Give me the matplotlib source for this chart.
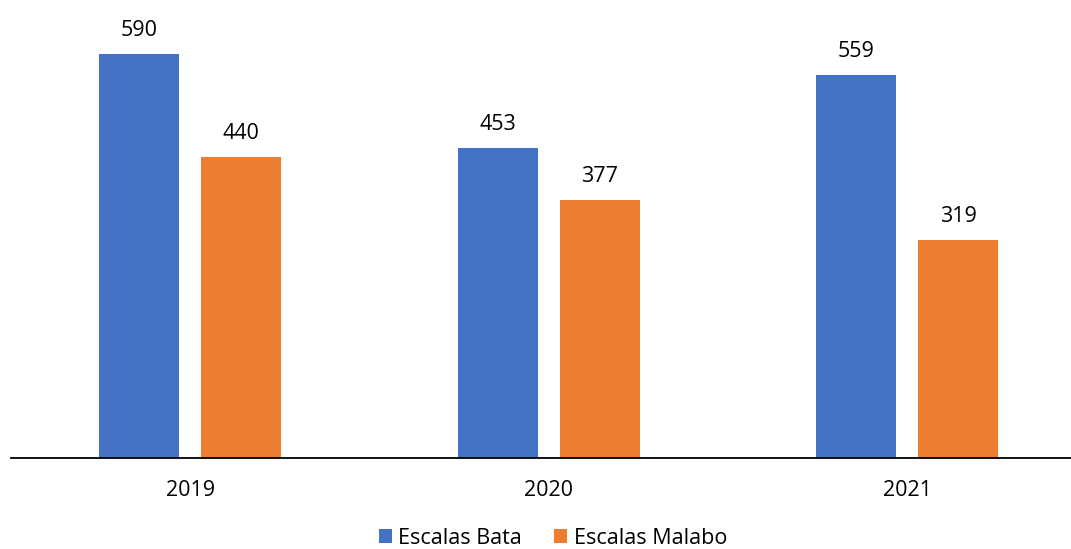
import matplotlib
matplotlib.use('Agg')
from matplotlib import pyplot as plt
import numpy as np

plt.rcParams['font.family'] = ['Open Sans', 'DejaVu Sans']

years = ['2019', '2020', '2021']
bata = [590, 453, 559]
malabo = [440, 377, 319]

W, H = 1071, 549
fig = plt.figure(figsize=(W / 100, H / 100), dpi=100)
ax = fig.add_axes([11 / W, (H - 458) / H, 1060 / W, 458 / H])

x = np.arange(len(years))
bw = 80 / 358.5
off = 51 / 358.5
b1 = ax.bar(x - off, bata, bw, color='#4472C4', label='Escalas Bata')
b2 = ax.bar(x + off, malabo, bw, color='#ED7D31', label='Escalas Malabo')

for bars in (b1, b2):
    for r in bars:
        ax.annotate(f'{int(r.get_height())}', (r.get_x() + r.get_width() / 2, r.get_height()),
                    xytext=(0, 13), textcoords='offset pixels', ha='center', va='bottom',
                    fontsize=15.5, color='#000000')

ax.set_xlim(-0.5, -0.5 + 1060 / 358.5)
ax.set_ylim(0, 458 / 0.6847)
for s in ['top', 'right', 'left']:
    ax.spines[s].set_visible(False)
ax.spines['bottom'].set_linewidth(1.3)
ax.spines['bottom'].set_color('#000000')
ax.set_yticks([])
ax.set_xticks(x)
ax.set_xticklabels(years, fontsize=15.5)
ax.tick_params(axis='x', length=0, pad=16)

fig.legend(handles=[b1, b2], loc='center', bbox_to_anchor=(553 / W, 1 - 538 / H),
           ncol=2, frameon=False, fontsize=15.5, handlelength=0.6, handleheight=0.6,
           handletextpad=0.3, columnspacing=1.5)

fig.savefig('out.png', dpi=100)
